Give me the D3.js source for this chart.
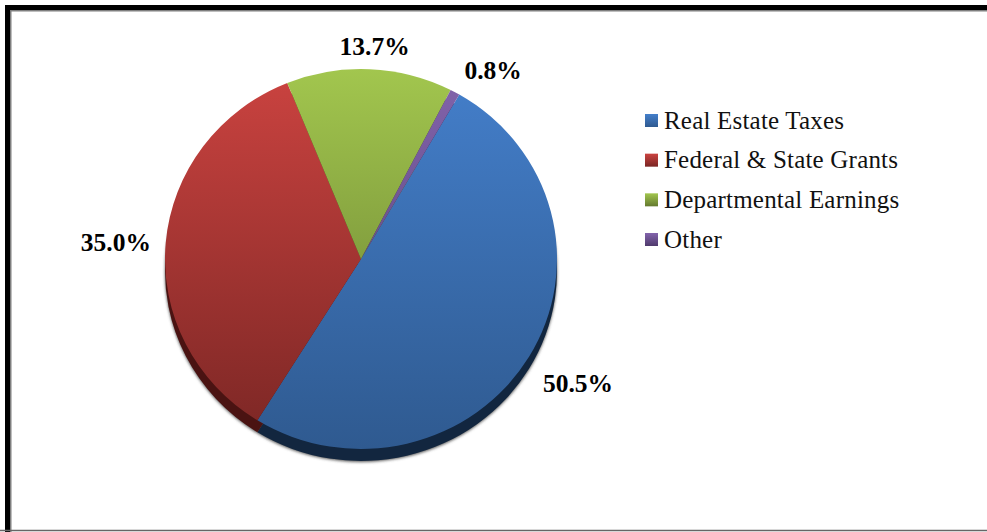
<!DOCTYPE html>
<html><head><meta charset="utf-8">
<script src="https://cdn.jsdelivr.net/npm/d3@7/dist/d3.min.js"></script>
<style>html,body{margin:0;padding:0;background:#fff;overflow:hidden}svg{display:block}</style>
</head><body><svg id="c" width="987" height="532"></svg>
<script>
const categories = ["Real Estate Taxes","Federal & State Grants","Departmental Earnings","Other"];
const values = [50.5,35.0,13.7,0.8];
const topColors = ["#447fcb","#cb4340","#a2c64e","#8364ac"];
const bottomColors = ["#2f5a90","#7a2624","#64792f","#4f3a6c"];
const sideColors = ["#12263f","#4a1312","#3d4a1c","#30233f"];

const W=987,H=532,cx=361,cy=259,rx=196,ry=190,depth=12;
const svg=d3.select("#c");
const defs=svg.append("defs");
const f=defs.append("filter").attr("id","soft").attr("x","-10%").attr("y","-10%").attr("width","120%").attr("height","120%");
f.append("feGaussianBlur").attr("stdDeviation",1.6);
categories.forEach((c,i)=>{
  const g=defs.append("linearGradient").attr("id","g"+i).attr("gradientUnits","userSpaceOnUse")
    .attr("x1",0).attr("x2",0).attr("y1",-rx).attr("y2",rx);
  g.append("stop").attr("offset",0).attr("stop-color",topColors[i]);
  g.append("stop").attr("offset",1).attr("stop-color",bottomColors[i]);
  const l=defs.append("linearGradient").attr("id","l"+i).attr("x1",0).attr("x2",0).attr("y1",0).attr("y2",1);
  l.append("stop").attr("offset",0).attr("stop-color",topColors[i]);
  l.append("stop").attr("offset",1).attr("stop-color",bottomColors[i]);
});

svg.append("rect").attr("width",W).attr("height",H).attr("fill","#fff");
// frame
svg.append("path").attr("d",`M10.75,${H+2}V10.75H${W+2}`).attr("fill","none").attr("stroke","#7f7f7f").attr("stroke-width",1.5);
svg.append("path").attr("d",`M7.5,${H+2}V7.5H${W+2}`).attr("fill","none").attr("stroke","#000").attr("stroke-width",5);
svg.append("line").attr("x1",0).attr("x2",W).attr("y1",530.5).attr("y2",530.5).attr("stroke","#666").attr("stroke-width",1.5);

const rot=30.1*Math.PI/180;
const pie=d3.pie().sort(null).startAngle(rot).endAngle(rot+2*Math.PI);
const arcs=pie(values);
const arc=d3.arc().innerRadius(0).outerRadius(rx);
const sy=ry/rx;

// soft drop shadow
svg.append("ellipse").attr("cx",cx).attr("cy",cy+depth+1).attr("rx",rx).attr("ry",ry)
  .attr("fill","#555").attr("filter","url(#soft)");
// side wall
svg.append("g").attr("transform",`translate(${cx},${cy+depth}) scale(1,${sy})`)
  .selectAll("path").data(arcs).join("path").attr("d",arc).attr("fill",(d,i)=>sideColors[i]);
// top surface
svg.append("g").attr("transform",`translate(${cx},${cy}) scale(1,${sy})`)
  .selectAll("path").data(arcs).join("path").attr("d",arc).attr("fill",(d,i)=>`url(#g${i})`);

// data labels
const labelArc=d3.arc().innerRadius(238).outerRadius(238);
const nudges=[[13,6],[-8,3],[3,18],[18,14]];
svg.append("g").selectAll("text").data(arcs).join("text")
  .attr("x",(d,i)=>cx+labelArc.centroid(d)[0]+nudges[i][0])
  .attr("y",(d,i)=>cy+labelArc.centroid(d)[1]*sy+nudges[i][1])
  .attr("text-anchor","middle").attr("dominant-baseline","central")
  .attr("font-family","'Liberation Serif',serif").attr("font-weight","bold").attr("font-size",25.5).attr("fill","#000")
  .text((d,i)=>values[i].toFixed(1)+"%");

// legend
const ly=d3.scalePoint().domain(categories).range([120,239]);
const lg=svg.append("g").selectAll("g").data(categories).join("g").attr("transform",d=>`translate(645,${ly(d)})`);
lg.append("rect").attr("y",-6).attr("width",13).attr("height",13).attr("fill",(d,i)=>`url(#l${i})`);
lg.append("text").attr("x",19).attr("dominant-baseline","central").attr("y",0)
  .attr("font-family","'Liberation Serif',serif").attr("font-size",25).attr("letter-spacing",0.2).attr("fill","#111").text(d=>d);
</script></body></html>
